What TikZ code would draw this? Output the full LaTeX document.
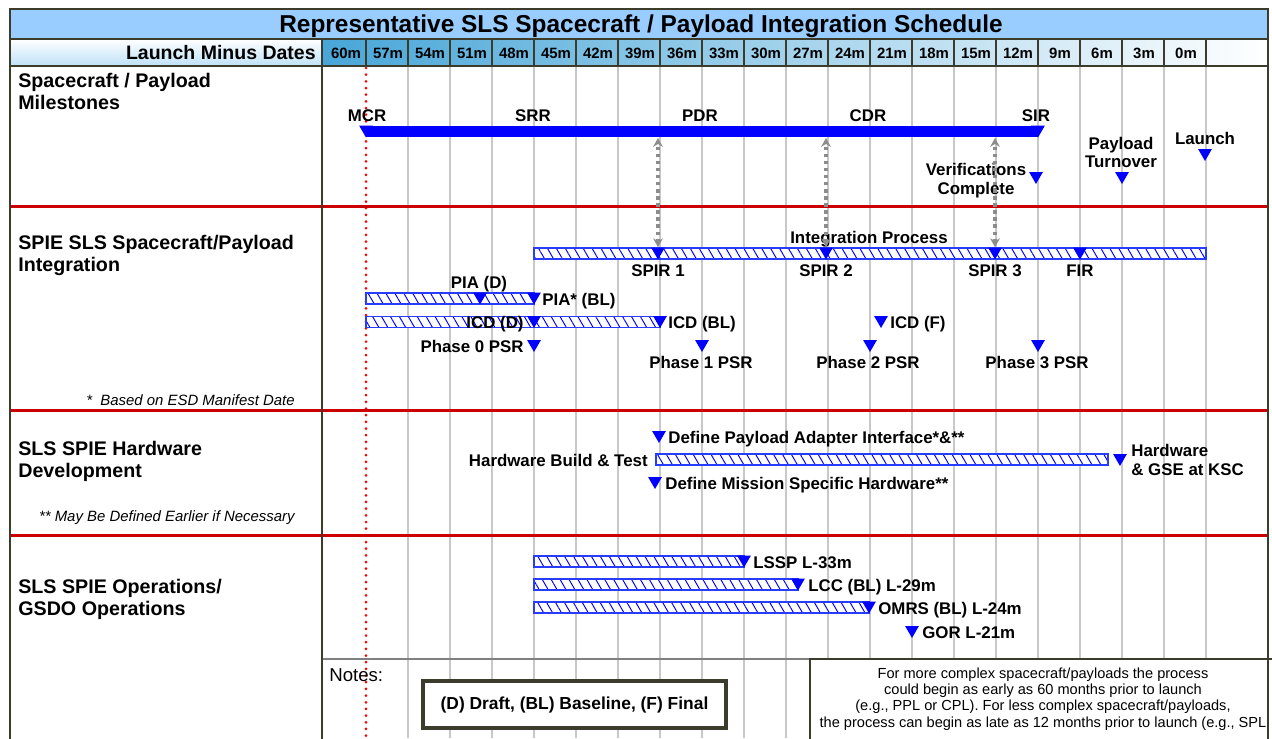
\documentclass[tikz,border=0pt]{standalone}
\usepackage{fontspec}
\setmainfont{Liberation Sans}
\usetikzlibrary{shapes.geometric,patterns.meta,arrows.meta}
\definecolor{framec}{RGB}{60,60,45}
\definecolor{titleblue}{RGB}{153,204,255}
\definecolor{hdrblue}{RGB}{72,166,216}
\definecolor{hdrpale}{RGB}{190,225,247}
\definecolor{divred}{RGB}{204,0,0}
\definecolor{gridgray}{RGB}{200,200,200}
\definecolor{linkgray}{RGB}{140,140,140}
\definecolor{msblue}{RGB}{0,0,255}
\definecolor{hatchblue}{RGB}{40,60,255}

\begin{document}
\begin{tikzpicture}[x=0.02cm, y=-0.02cm,
  lbl/.style={font=\fontsize{9.6}{11.5}\selectfont\bfseries, inner sep=0pt, text height=6.9pt, text depth=0pt},
  lbltwo/.style={font=\fontsize{9.6}{10.6}\selectfont\bfseries, inner sep=0pt, anchor=north, align=center},
  sec/.style={font=\fontsize{11.2}{12.5}\selectfont\bfseries, inner sep=0pt, anchor=north west, align=left},
  foot/.style={font=\fontsize{8.5}{10}\selectfont\itshape, inner sep=0pt, anchor=east, text height=6.1pt, text depth=0pt},
  mon/.style={font=\fontsize{8.5}{10}\selectfont\bfseries, inner sep=0pt, text height=6.1pt, text depth=0pt},
  tri/.style={regular polygon, regular polygon sides=3, shape border rotate=180, minimum size=0.32cm, inner sep=0pt, fill=msblue, yshift=0.4mm},
  hatchbar/.style={draw=hatchblue, line width=0.6pt, preaction={fill=white}, pattern={Lines[angle=-60, distance=4.4pt, line width=0.55pt]}, pattern color=msblue},
  link/.style={linkgray, line width=2pt, dash pattern=on 1.8pt off 2.2pt, {Stealth[length=5pt,width=5.5pt]}-{Stealth[length=5pt,width=5.5pt]}},
  gridline/.style={gridgray, line width=0.6pt},
  divider/.style={divred, line width=1.7pt},
  framel/.style={framec, line width=1.3pt}]
  \useasboundingbox (0,0) rectangle (1272,738);
  \clip (0,0) rectangle (1272,738);

  % title row and header row
  \fill[titleblue] (10,9) rectangle (1268,39);
  \shade[top color=white, bottom color=hdrpale] (10,39) rectangle (322,66);
  \shade[left color=hdrblue, right color=white] (322,39) rectangle (1268,66);

  % month grid
  \foreach \k in {1,...,20}
    \draw[gridline] (366+42*\k,66) -- (366+42*\k,738);
  \draw[gridline, gray] (322,659) -- (1268,659);
  \draw[red, line width=1.7pt, line cap=round, dash pattern=on 0pt off 3.8pt] (366,68) -- (366,738);

  % section dividers
  \foreach \y in {206,410,535}
    \draw[divider] (10,\y) -- (1268,\y);

  % notes row
  \node[font=\fontsize{10.6}{12}\selectfont, inner sep=0pt, anchor=west] (notes) at (329,675) {Notes:};
  \node[draw=framec, line width=1.8pt, fill=white, minimum width=6.06cm, minimum height=0.94cm,
        font=\fontsize{9.9}{12}\selectfont\bfseries] (legend) at (574.5,704.5) {(D) Draft, (BL) Baseline, (F) Final};
  \fill[white] (810,659) rectangle (1290,760);
  \draw[framec, line width=0.6pt] (1290,659) -- (810,659) -- (810,760);
  \node[font=\fontsize{8.3}{9.35}\selectfont, inner sep=0pt, align=center] (remark) at (1043,699)
    {For more complex spacecraft/payloads the process\\could begin as early as 60 months prior to launch\\(e.g., PPL or CPL). For less complex spacecraft/payloads,\\the process can begin as late as 12 months prior to launch (e.g., SPL};

  % frame
  \draw[framel] (10,740) -- (10,9) -- (1268,9) -- (1268,740);
  \draw[framel] (10,39) -- (1268,39);
  \draw[framel] (10,66) -- (1268,66);
  \draw[framel] (322,39) -- (322,740);
  \foreach \k in {0,...,20}
    \draw[framec, line width=0.8pt] (366+42*\k,39) -- (366+42*\k,66);

  % headings
  \node[font=\fontsize{13.9}{16}\selectfont\bfseries, inner sep=0pt, text height=10pt, text depth=0pt] (title) at (641,24)
    {Representative SLS Spacecraft / Payload Integration Schedule};
  \node[font=\fontsize{11.1}{13}\selectfont\bfseries, inner sep=0pt, text height=7.95pt, text depth=0pt, anchor=east] (lmd) at (316,53) {Launch Minus Dates};
  \foreach \m [count=\i from 0] in {60m,57m,54m,51m,48m,45m,42m,39m,36m,33m,30m,27m,24m,21m,18m,15m,12m,9m,6m,3m,0m}
    \node[mon] (m\i) at (346+42*\i,53) {\m};

  \node[sec] (s1) at (18,73) {Spacecraft / Payload\\Milestones};
  \node[sec] (s2) at (18,235) {SPIE SLS Spacecraft/Payload\\Integration};
  \node[sec] (s3) at (18,441) {SLS SPIE Hardware\\Development};
  \node[sec] (s4) at (18,579) {SLS SPIE Operations/\\GSDO Operations};

  % milestones
  \fill[msblue] (366,126) rectangle (1038,137);
  \node[tri] (tmcr) at (366,131.5) {};
  \node[tri] (tsir) at (1038,131.5) {};
  \node[lbl] (lmcr) at (367,115) {MCR};
  \node[lbl] (lsrr) at (533,115) {SRR};
  \node[lbl] (lpdr) at (700,115) {PDR};
  \node[lbl] (lcdr) at (868,115) {CDR};
  \node[lbl] (lsir) at (1036,115) {SIR};
  \coordinate (up1) at (658,138);
  \coordinate (up2) at (826,138);
  \coordinate (up3) at (995,138);
  \node[lbltwo] (lver) at (976,163) {Verifications\\Complete};
  \node[tri] (tver) at (1036,178) {};
  \node[lbltwo] (lturn) at (1121,136.5) {Payload\\Turnover};
  \node[tri] (tturn) at (1122,178) {};
  \node[lbl] (llaunch) at (1205,138) {Launch};
  \node[tri] (tlaunch) at (1205,155) {};

  % integration
  \draw[hatchbar] (534,248) rectangle (1206,259);
  \node[lbl] (lint) at (869,237) {Integration Process};
  \node[tri] (tspir1) at (658,253.5) {};
  \node[tri] (tspir2) at (826,253.5) {};
  \node[tri] (tspir3) at (995,253.5) {};
  \node[tri] (tfir) at (1080,253.5) {};
  \draw[link] (tspir1) -- (up1);
  \draw[link] (tspir2) -- (up2);
  \draw[link] (tspir3) -- (up3);
  \node[lbl] (lspir1) at (658,270) {SPIR 1};
  \node[lbl] (lspir2) at (826,270) {SPIR 2};
  \node[lbl] (lspir3) at (995,270) {SPIR 3};
  \node[lbl] (lfir) at (1080,270) {FIR};

  \draw[hatchbar] (366,293) rectangle (534,304);
  \node[tri] (tpiad) at (480,298.5) {};
  \node[tri] (tpiabl) at (534,298.5) {};
  \node[lbl] (lpiad) at (479,282) {PIA (D)};
  \node[lbl, anchor=west] (lpiabl) at (542,299) {PIA* (BL)};

  \draw[hatchbar] (366,316.5) rectangle (660,327.5);
  \node[tri] (ticdd) at (534,322) {};
  \node[tri] (ticdbl) at (660,322) {};
  \node[lbl] (licdd) at (495,322) {ICD (D)};
  \node[lbl, anchor=west] (licdbl) at (668,322) {ICD (BL)};
  \node[tri] (ticdf) at (881,322) {};
  \node[lbl, anchor=west] (licdf) at (890,322) {ICD (F)};

  \node[tri] (tpsr0) at (534,346) {};
  \node[lbl, anchor=east] (lpsr0) at (524,346) {Phase 0 PSR};
  \node[tri] (tpsr1) at (702,346) {};
  \node[lbl] (lpsr1) at (701,362) {Phase 1 PSR};
  \node[tri] (tpsr2) at (870,346) {};
  \node[lbl] (lpsr2) at (868,362) {Phase 2 PSR};
  \node[tri] (tpsr3) at (1038,346) {};
  \node[lbl] (lpsr3) at (1037,362) {Phase 3 PSR};
  \node[foot] (fn1) at (295,400) {*\ \ Based on ESD Manifest Date};

  % hardware
  \node[tri] (tadapt) at (659,437) {};
  \node[lbl, anchor=west] (ladapt) at (668,437) {Define Payload Adapter Interface*\&**};
  \node[lbl, anchor=east] (lbuild) at (648,460) {Hardware Build \& Test};
  \draw[hatchbar] (656,454) rectangle (1108,465);
  \node[tri] (tksc) at (1120,460) {};
  \node[lbltwo, anchor=north west, align=left] (lksc) at (1131,444) {Hardware\\\& GSE at KSC};
  \node[tri] (tmsh) at (655,483) {};
  \node[lbl, anchor=west] (lmsh) at (665,483) {Define Mission Specific Hardware**};
  \node[foot] (fn2) at (295,516) {** May Be Defined Earlier if Necessary};

  % operations
  \draw[hatchbar] (534,556) rectangle (744,567);
  \node[tri] (tlssp) at (744,561.5) {};
  \node[lbl, anchor=west] (llssp) at (753,562) {LSSP L-33m};
  \draw[hatchbar] (534,579) rectangle (798,590);
  \node[tri] (tlcc) at (798,584.5) {};
  \node[lbl, anchor=west] (llcc) at (808,585) {LCC (BL) L-29m};
  \draw[hatchbar] (534,602) rectangle (869,613);
  \node[tri] (tomrs) at (869,607.5) {};
  \node[lbl, anchor=west] (lomrs) at (878,608) {OMRS (BL) L-24m};
  \node[tri] (tgor) at (912,632) {};
  \node[lbl, anchor=west] (lgor) at (922,632) {GOR L-21m};
\end{tikzpicture}
\end{document}
